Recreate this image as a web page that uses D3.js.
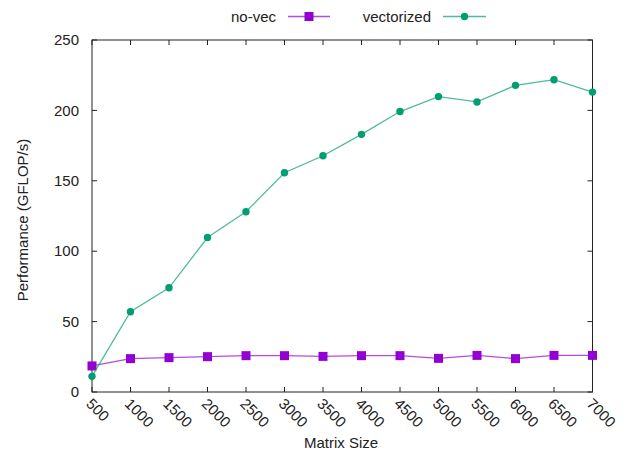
<!DOCTYPE html>
<html>
<head>
<meta charset="utf-8">
<script src="https://cdn.jsdelivr.net/npm/d3@7"></script>
<style>
  html, body { margin: 0; padding: 0; background: #fff; }
  text { font-family: "Liberation Sans", Arial, sans-serif; fill: #222; }
</style>
</head>
<body>
<svg id="chart" width="628" height="456"></svg>
<script>
// Matrix sizes and measured performance (GFLOP/s)
const sizes = [500, 1000, 1500, 2000, 2500, 3000, 3500, 4000, 4500, 5000, 5500, 6000, 6500, 7000];
const noVec = [18.5, 23.7, 24.4, 25.1, 25.8, 25.8, 25.3, 25.8, 25.8, 23.9, 26.0, 23.7, 26.0, 26.0];
const vectorized = [11.1, 57.0, 74.0, 109.7, 128.0, 155.7, 167.8, 183.0, 199.2, 209.8, 206.0, 217.8, 221.8, 213.0];
const yTicks = [0, 50, 100, 150, 200, 250];
const xTicks = sizes;

const svg = d3.select("#chart");
const plotL = 92, plotR = 592.5, plotT = 40, plotB = 392;
const fs = 15;

const x = d3.scaleLinear().domain([500, 7000]).range([plotL, plotR]);
const y = d3.scaleLinear().domain([0, 250]).range([plotB, plotT]);

const frame = "#222";

// Plot border
svg.append("rect")
  .attr("x", plotL).attr("y", plotT)
  .attr("width", plotR - plotL).attr("height", plotB - plotT)
  .attr("fill", "none").attr("stroke", frame).attr("stroke-width", 1);

// Inward ticks, mirrored on all four sides
const tl = 5;
const g = svg.append("g").attr("stroke", frame).attr("stroke-width", 1);
xTicks.forEach(v => {
  g.append("line").attr("x1", x(v)).attr("x2", x(v)).attr("y1", plotB).attr("y2", plotB - tl);
  g.append("line").attr("x1", x(v)).attr("x2", x(v)).attr("y1", plotT).attr("y2", plotT + tl);
});
yTicks.forEach(v => {
  g.append("line").attr("x1", plotL).attr("x2", plotL + tl).attr("y1", y(v)).attr("y2", y(v));
  g.append("line").attr("x1", plotR).attr("x2", plotR - tl).attr("y1", y(v)).attr("y2", y(v));
});

// Y tick labels
svg.append("g").selectAll("text").data(yTicks).join("text")
  .attr("x", plotL - 13).attr("y", d => y(d)).attr("dy", "0.35em")
  .attr("text-anchor", "end").attr("font-size", fs)
  .text(d => d);

// X tick labels, rotated
svg.append("g").selectAll("text").data(xTicks).join("text")
  .attr("transform", d => `translate(${x(d) - 3},${plotB + 9}) rotate(45)`)
  .attr("text-anchor", "start").attr("dy", "0.35em").attr("font-size", fs)
  .text(d => d);

// Axis titles
svg.append("text")
  .attr("transform", `translate(28,${(plotT + plotB) / 2 + 4}) rotate(-90)`)
  .attr("text-anchor", "middle").attr("font-size", fs)
  .text("Performance (GFLOP/s)");
svg.append("text")
  .attr("x", 341).attr("y", 448)
  .attr("text-anchor", "middle").attr("font-size", fs)
  .text("Matrix Size");

const purple = "#9400d3", green = "#009e73";
const line = d3.line().x(d => x(d[0])).y(d => y(d[1]));

function drawMarker(sel, marker, cx, cy) {
  if (marker === "square") {
    sel.append("rect").attr("x", cx - 4.5).attr("y", cy - 4.5).attr("width", 9).attr("height", 9);
  } else {
    sel.append("circle").attr("cx", cx).attr("cy", cy).attr("r", 3.7);
  }
}

function series(vals, color, marker) {
  const pts = sizes.map((s, i) => [s, vals[i]]);
  svg.append("path").datum(pts)
    .attr("d", line).attr("fill", "none")
    .attr("stroke", color).attr("stroke-opacity", 0.7).attr("stroke-width", 1.3);
  const m = svg.append("g").attr("fill", color);
  pts.forEach(p => drawMarker(m, marker, x(p[0]), y(p[1])));
}

series(noVec, purple, "square");
series(vectorized, green, "circle");

// Legend
const legend = [
  { label: "no-vec", color: purple, marker: "square", textEnd: 276, x0: 288, x1: 330 },
  { label: "vectorized", color: green, marker: "circle", textEnd: 431, x0: 443, x1: 486 }
];
const ly = 16.5;
legend.forEach(d => {
  svg.append("text").attr("x", d.textEnd).attr("y", ly).attr("dy", "0.35em")
    .attr("text-anchor", "end").attr("font-size", fs).text(d.label);
  svg.append("line").attr("x1", d.x0).attr("x2", d.x1).attr("y1", ly).attr("y2", ly)
    .attr("stroke", d.color).attr("stroke-opacity", 0.7).attr("stroke-width", 1.3);
  drawMarker(svg.append("g").attr("fill", d.color), d.marker, (d.x0 + d.x1) / 2, ly);
});
</script>
</body>
</html>
